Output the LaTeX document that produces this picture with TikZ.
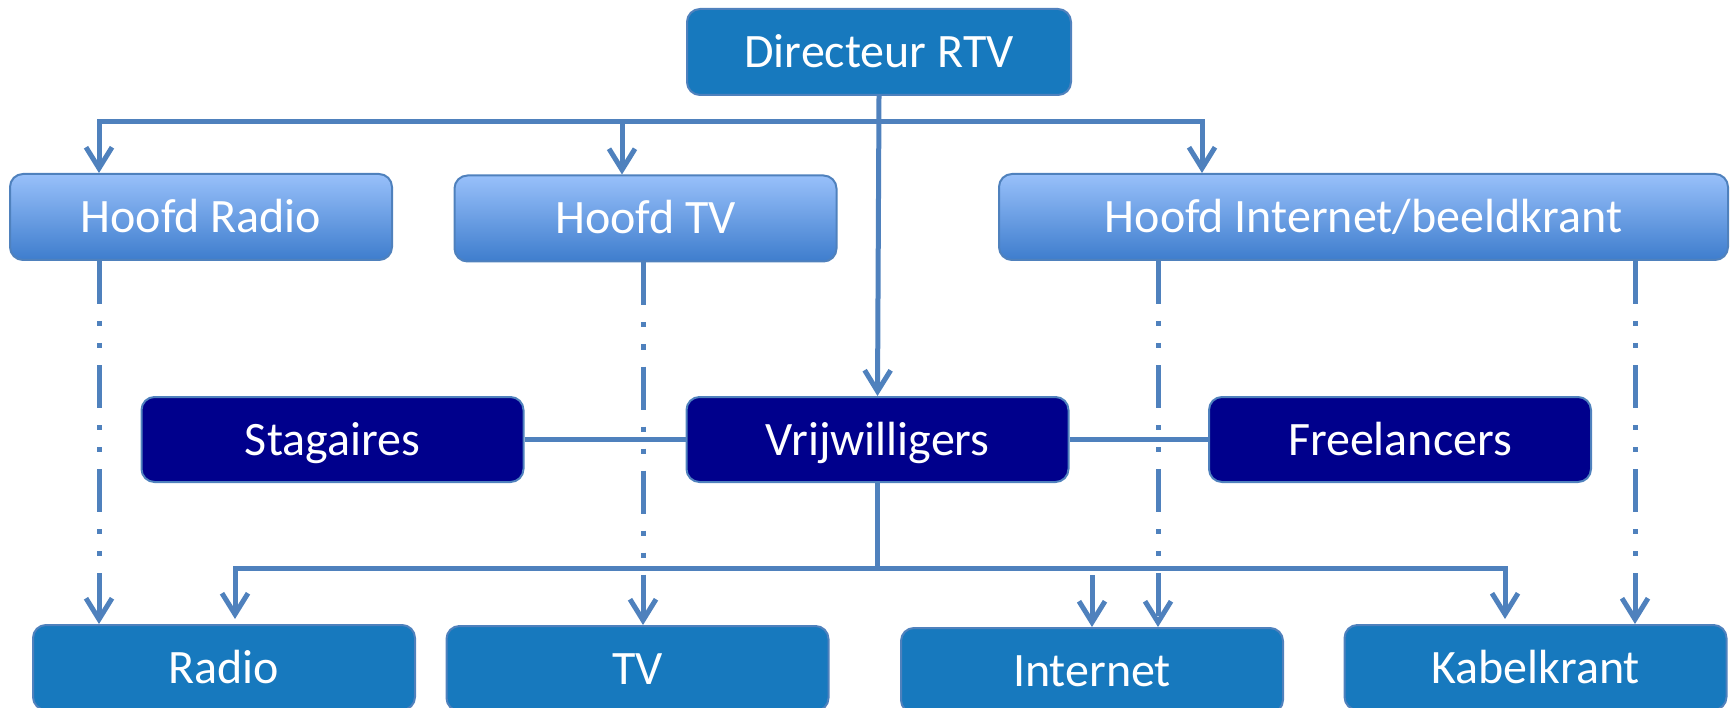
\documentclass[tikz,border=0pt]{standalone}
\usepackage{fontspec}
\setmainfont{Carlito}
\usetikzlibrary{arrows.meta, positioning}
\definecolor{rtv_blue}{RGB}{23, 121, 190}
\definecolor{line_blue}{RGB}{79, 129, 189}
\definecolor{head_top}{RGB}{152, 192, 250}
\definecolor{head_bottom}{RGB}{62, 125, 205}
\definecolor{staff_navy}{RGB}{0, 0, 140}
\tikzset{
    box_base/.style={
        draw=line_blue,
        line width=2pt,
        rounded corners=13pt,
        minimum width=382pt,
        minimum height=85pt,
        inner sep=0pt,
        text=white,
        text height=31pt,
        text depth=0pt,
        font=\fontsize{48}{56}\selectfont
    },
    director_node/.style={
        box_base,
        fill=rtv_blue,
        minimum width=384pt,
        minimum height=86pt
    },
    head_node/.style={
        box_base,
        top color=head_top,
        bottom color=head_bottom,
        minimum height=86pt
    },
    staff_node/.style={
        box_base,
        fill=staff_navy
    },
    unit_node/.style={
        box_base,
        fill=rtv_blue
    },
    line_style/.style={
        line width=5pt,
        draw=line_blue
    },
    arrow_style/.style={
        line_style,
        -{Straight Barb[length=21pt,width=26pt]}
    },
    bus_style/.style={
        line_style,
        {Straight Barb[length=21pt,width=26pt]}-{Straight Barb[length=21pt,width=26pt]}
    },
    dotted_link/.style={
        arrow_style,
        dash pattern=on 43pt off 17pt on 5pt off 17pt on 5pt off 17pt
    }
}

\begin{document}
\begin{tikzpicture}[x=1pt, y=1pt]

\useasboundingbox (0,0) rectangle (1731,-708);

% Director
\node[director_node] (directeur) at (879,-52) {Directeur RTV};

% Heads
\node[head_node] (hoofdradio) at (201,-217) {Hoofd Radio};
\node[head_node] (hoofdtv) at (645.5,-218.5) {Hoofd TV};
\node[head_node, minimum width=729pt] (hoofdinternet) at (1363.5,-217) {Hoofd Internet/beeldkrant};

% Staff
\node[staff_node] (stagaires) at (332.5,-439.5) {Stagaires};
\node[staff_node] (vrijwilligers) at (877.5,-439.5) {Vrijwilligers};
\node[staff_node] (freelancers) at (1400,-439.5) {Freelancers};

% Units
\node[unit_node] (radio) at (224,-667.5) {Radio};
\node[unit_node] (tv) at (637.5,-668.5) {TV};
\node[unit_node] (internet) at (1092,-670.5) {Internet};
\node[unit_node] (kabelkrant) at (1535.5,-667.5) {Kabelkrant};

% Bus points
\coordinate (topleft) at (99,-122);
\coordinate (topright) at (1202,-122);
\coordinate (toptv) at (622,-122);
\coordinate (lowleft) at (235,-568);
\coordinate (lowright) at (1505,-568);
\coordinate (lowinternet) at (1092,-575);
\coordinate (lineradio) at (99,0);
\coordinate (linetv) at (643,0);
\coordinate (lineinternet) at (1158,0);
\coordinate (linekabel) at (1635,0);

% Director to heads and volunteers
\draw[bus_style] (topleft |- hoofdradio.north) -- (topleft) -- (topright) -- (topright |- hoofdinternet.north);
\draw[arrow_style] (toptv) -- (toptv |- hoofdtv.north);
\draw[arrow_style] (directeur.south) -- (vrijwilligers.north);

% Staff links
\draw[line_style] (stagaires) -- (vrijwilligers);
\draw[line_style] (vrijwilligers) -- (freelancers);

% Volunteers to units
\draw[line_style] (vrijwilligers.south) -- (vrijwilligers.south |- lowleft);
\draw[bus_style, shorten <=5pt, shorten >=5pt] (lowleft |- radio.north) -- (lowleft) -- (lowright) -- (lowright |- kabelkrant.north);
\draw[arrow_style] (lowinternet) -- (internet.north);

% Heads to units
\draw[dotted_link] (hoofdradio.south -| lineradio) -- (radio.north -| lineradio);
\draw[dotted_link] (hoofdtv.south -| linetv) -- (tv.north -| linetv);
\draw[dotted_link] (hoofdinternet.south -| lineinternet) -- (internet.north -| lineinternet);
\draw[dotted_link] (hoofdinternet.south -| linekabel) -- (kabelkrant.north -| linekabel);

\end{tikzpicture}
\end{document}
